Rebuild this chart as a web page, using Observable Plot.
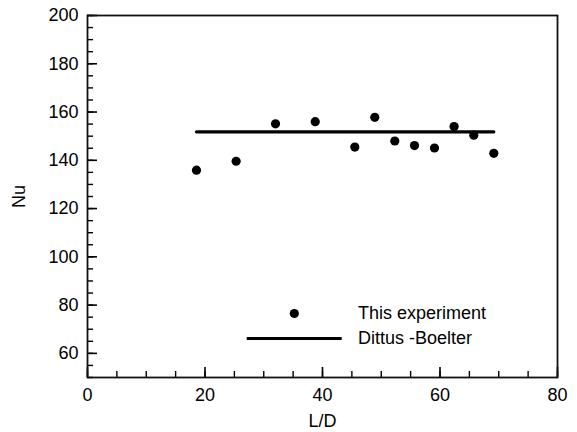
<!DOCTYPE html>
<html><head><meta charset="utf-8">
<script src="https://cdn.jsdelivr.net/npm/d3@7"></script>
<script src="https://cdn.jsdelivr.net/npm/@observablehq/plot@0.6"></script>
<style>
body{margin:0;background:#fff;}
#wrap{position:relative;width:577px;height:432px;font-family:"Liberation Sans",Arial,Helvetica,sans-serif;}
#legend{position:absolute;left:246px;top:301px;font-size:18px;color:#000;line-height:25px;}
.row{display:flex;align-items:center;height:25px;}
.row svg{flex:none;}
</style></head><body>
<div id="wrap"></div>
<script>
// Data
const ldValues = [18.55, 25.3, 32.0, 38.76, 45.5, 48.9, 52.3, 55.66, 59.06, 62.4, 65.75, 69.16];
const nuValues = [135.9, 139.6, 155.1, 156.0, 145.5, 157.8, 148.0, 146.1, 145.1, 154.0, 150.4, 142.9];
const dittusLD = [18.55, 69.16];
const dittusNu = [151.8, 151.8];
const xMajorTicks = [0, 20, 40, 60, 80];
const yMajorTicks = [60, 80, 100, 120, 140, 160, 180, 200];
const xMinorTicks = [0, 5, 10, 15, 20, 25, 30, 35, 40, 45, 50, 55, 60, 65, 70, 75, 80];
const yMinorTicks = [50, 55, 60, 65, 70, 75, 80, 85, 90, 95, 100, 105, 110, 115, 120, 125, 130, 135, 140, 145, 150, 155, 160, 165, 170, 175, 180, 185, 190, 195, 200];
const seriesNames = ["This experiment", "Dittus -Boelter"];
const xTitle = "L/D";
const yTitle = "Nu";

const experiment = ldValues.map((x, i) => ({x, y: nuValues[i]}));
const dittus = dittusLD.map((x, i) => ({x, y: dittusNu[i]}));

const chart = Plot.plot({
  width: 577,
  height: 432,
  marginLeft: 87,
  marginRight: 20,
  marginTop: 15,
  marginBottom: 55,
  style: {fontFamily: "'Liberation Sans', Arial, Helvetica, sans-serif", fontSize: "18px", color: "#000", background: "#fff"},
  x: {domain: [0, 80]},
  y: {domain: [50, 200]},
  marks: [
    Plot.axisX({ticks: xMinorTicks, tickSize: -6, fill: "none", strokeWidth: 1.4, stroke: "#000"}),
    Plot.axisX({ticks: xMajorTicks, tickSize: -10, fill: "none", strokeWidth: 1.6, stroke: "#000"}),
    Plot.axisX({ticks: xMajorTicks, tickSize: 0, tickPadding: 11, label: null, fill: "#000"}),
    Plot.axisY({ticks: yMinorTicks, tickSize: -6, fill: "none", strokeWidth: 1.4, stroke: "#000"}),
    Plot.axisY({ticks: yMajorTicks, tickSize: -10, fill: "none", strokeWidth: 1.6, stroke: "#000"}),
    Plot.axisY({ticks: yMajorTicks, tickSize: 0, tickPadding: 9, label: null, fill: "#000"}),
    Plot.frame({stroke: "#111", strokeWidth: 1.8}),
    Plot.line(dittus, {x: "x", y: "y", stroke: "#000", strokeWidth: 3.2}),
    Plot.dot(experiment, {x: "x", y: "y", r: 4.6, fill: "#000", stroke: "none"}),
    Plot.text([xTitle], {frameAnchor: "bottom", lineAnchor: "middle", textAnchor: "middle", dy: 44, fontSize: 18, fill: "#000"}),
    Plot.text([yTitle], {frameAnchor: "left", lineAnchor: "middle", textAnchor: "middle", dx: -68, rotate: -90, fontSize: 18, fill: "#000"})
  ]
});

const wrap = document.getElementById("wrap");
wrap.appendChild(chart);

const legend = document.createElement("div");
legend.id = "legend";
legend.innerHTML =
  `<div class="row"><svg width="112" height="25"><circle cx="48.3" cy="12.5" r="4.6" fill="#000"/></svg><span>${seriesNames[0]}</span></div>` +
  `<div class="row"><svg width="112" height="25"><line x1="0.7" x2="95.7" y1="12.5" y2="12.5" stroke="#000" stroke-width="3.2"/></svg><span>${seriesNames[1]}</span></div>`;
wrap.appendChild(legend);
</script>
</body></html>
